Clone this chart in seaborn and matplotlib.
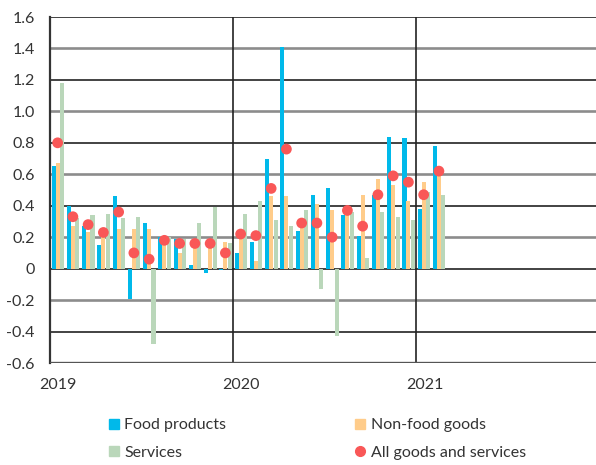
import numpy as np
import pandas as pd
import matplotlib
matplotlib.use("Agg")
import matplotlib.pyplot as plt
import seaborn as sns
from matplotlib.lines import Line2D

# ---- data (monthly, Jan 2019 - Feb 2021) ----
months = pd.date_range("2019-01-01", periods=26, freq="MS").strftime("%Y-%m").tolist()
food = [0.65, 0.40, 0.27, 0.15, 0.46, -0.19, 0.29, 0.20, 0.19, 0.02, -0.03, -0.01,
        0.10, 0.17, 0.70, 1.41, 0.24, 0.47, 0.51, 0.34, 0.21, 0.47, 0.84, 0.83,
        0.38, 0.78]
nonfood = [0.67, 0.27, 0.23, 0.21, 0.25, 0.25, 0.25, 0.18, 0.10, 0.19, 0.16, 0.17,
           0.22, 0.05, 0.46, 0.46, 0.30, 0.41, 0.37, 0.37, 0.47, 0.57, 0.53, 0.43,
           0.55, 0.59]
services = [1.18, 0.32, 0.34, 0.35, 0.32, 0.33, -0.48, 0.20, 0.19, 0.29, 0.39, 0.16,
            0.35, 0.43, 0.31, 0.27, 0.37, -0.13, -0.43, 0.36, 0.07, 0.36, 0.33, 0.31,
            0.49, 0.47]
total = [0.80, 0.33, 0.28, 0.23, 0.36, 0.10, 0.06, 0.18, 0.16, 0.16, 0.16, 0.10,
         0.22, 0.21, 0.51, 0.76, 0.29, 0.29, 0.20, 0.37, 0.27, 0.47, 0.59, 0.55,
         0.47, 0.62]
series_names = ["Food products", "Non-food goods", "Services", "All goods and services"]
year_labels = ["2019", "2020", "2021"]
yticks = [1.6, 1.4, 1.2, 1.0, 0.8, 0.6, 0.4, 0.2, 0.0, -0.2, -0.4, -0.6]

BLUE = "#00B9EA"
ORANGE = "#FFCC8A"
GREEN = "#BAD7BA"
RED = "#F95757"

sns.set_theme(style="white")
plt.rcParams['font.family'] = ['Lato', 'DejaVu Sans']

fig = plt.figure(figsize=(5.96, 4.65), dpi=100)
ax = fig.add_axes([50/596, 1-363/465, 546/596, 346/465])

idx = np.arange(len(months))
df = pd.DataFrame({"m": idx, "food": food, "nonfood": nonfood,
                   "services": services, "total": total})

for col, off, c in [("food", 0.24, BLUE), ("nonfood", 0.50, ORANGE), ("services", 0.79, GREEN)]:
    sns.barplot(x=df["m"] + off, y=df[col], native_scale=True, width=0.27, color=c,
                saturation=1, errorbar=None, linewidth=0, ax=ax, zorder=3)

sns.scatterplot(x=df["m"] + 0.5, y=df["total"], color=RED, s=60, edgecolor="none",
                linewidth=0, zorder=5, ax=ax)

# gridlines
for v in yticks:
    if round(v / 0.4, 6) == round(v / 0.4):
        ax.axhline(v, color="#222222", lw=1.2, zorder=1)
    else:
        ax.axhline(v, color="#8c8c8c", lw=1.9, zorder=1)
ax.axhline(-0.6, color="#555555", lw=2.4, zorder=6)
for xv in [12, 24]:
    ax.axvline(xv, color="#222222", lw=1.2, zorder=1)

ax.set_xlim(0, 35.8)
ax.set_ylim(-0.6, 1.6)

for s in ["top", "right", "bottom"]:
    ax.spines[s].set_visible(False)
ax.spines["left"].set_color("#333333")
ax.spines["left"].set_linewidth(1.6)

ax.set_yticks(yticks)
ax.set_yticklabels(["0" if v == 0 else f"{v:.1f}" for v in yticks])
ax.set_xticks([0.55, 12.55, 24.55])
ax.set_xticklabels(year_labels)
ax.tick_params(axis="both", length=0, labelsize=11.5, colors="#333333")
ax.tick_params(axis="y", pad=11)
ax.tick_params(axis="x", pad=11)
ax.set_xlabel("")
ax.set_ylabel("")

handles = [
    Line2D([], [], marker="s", ls="none", color=BLUE, markersize=7),
    Line2D([], [], marker="s", ls="none", color=GREEN, markersize=7),
    Line2D([], [], marker="s", ls="none", color=ORANGE, markersize=7),
    Line2D([], [], marker="o", ls="none", color=RED, markersize=7),
]
labels = [series_names[0], series_names[2], series_names[1], series_names[3]]
fig.legend(handles, labels, ncol=2, loc="upper left", bbox_to_anchor=(109/596, 1-418/465),
           frameon=False, fontsize=11.5, handlelength=0.6, handletextpad=0.35,
           columnspacing=8.1, labelspacing=0.85, borderpad=0, borderaxespad=0,
           labelcolor="#333333")

fig.savefig("out.png", dpi=100)
